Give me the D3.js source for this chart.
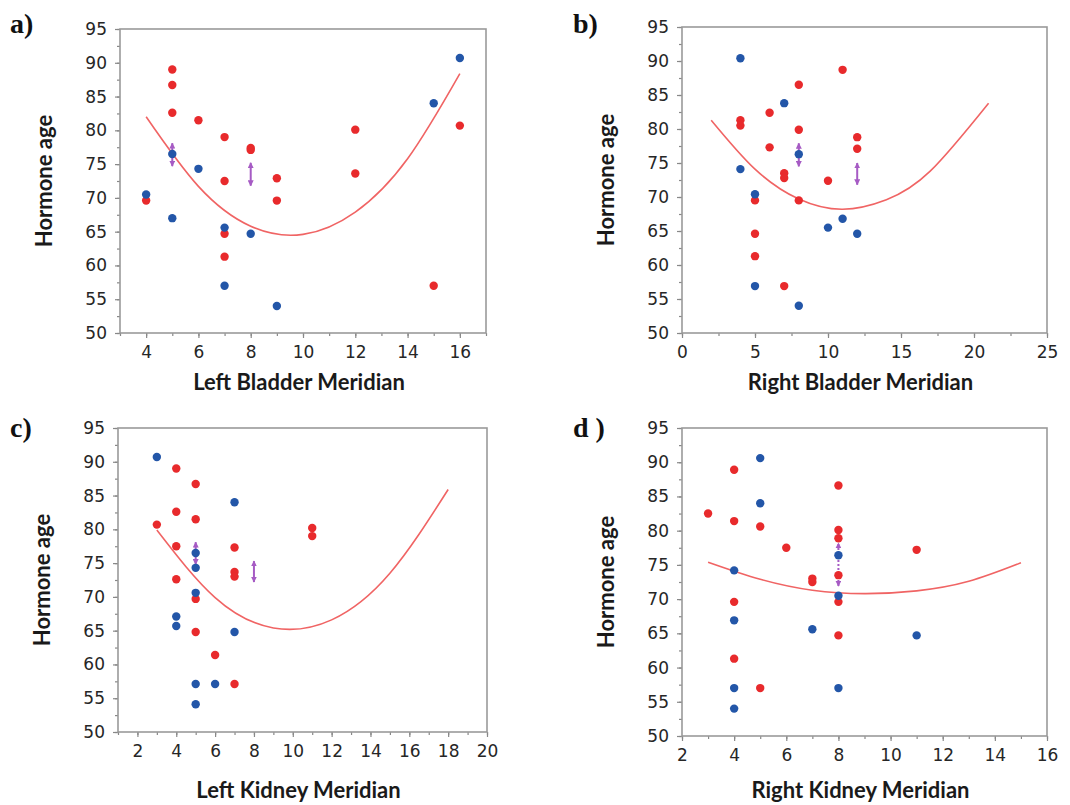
<!DOCTYPE html>
<html>
<head>
<meta charset="utf-8">
<script src="https://cdn.jsdelivr.net/npm/d3@7"></script>
<style>
body{margin:0;background:#fff}
</style>
</head>
<body>
<div id="chart"></div>
<script>
// a) Left Bladder Meridian
var aRed = [[4,69.6],[5,89.0],[5,86.7],[5,82.6],[6,81.5],[7,79.0],[7,72.5],[7,64.7],[7,61.3],[8,77.4],[8,77.1],[9,72.9],[9,69.6],[12,80.1],[12,73.6],[15,57.0],[16,80.7]];
var aBlue = [[4,70.5],[5,76.5],[5,67.0],[6,74.3],[7,65.6],[7,57.0],[8,64.7],[9,54.0],[15,84.0],[16,90.7]];
var aCurve = [[4,82.0],[6,71.7],[8,65.8],[10,64.6],[12,67.9],[14,75.8],[16,88.4]];
var aArrows = [[5,74.7,78.1],[8,71.8,75.2]];
var aXTicks = [4,6,8,10,12,14,16];

// b) Right Bladder Meridian
var bRed = [[4,81.3],[4,80.5],[5,69.5],[5,64.6],[5,61.3],[6,82.4],[6,77.3],[7,73.5],[7,72.8],[7,56.9],[8,86.5],[8,79.9],[8,69.5],[10,72.4],[11,88.7],[12,78.8],[12,77.1]];
var bBlue = [[4,90.4],[4,74.1],[5,70.4],[5,56.9],[7,83.8],[8,76.3],[8,54.0],[10,65.5],[11,66.8],[12,64.6]];
var bCurve = [[2,81.3],[5,74.1],[8,69.7],[11,68.2],[14,69.6],[17,73.8],[21,83.8]];
var bArrows = [[8,74.5,77.9],[12,71.8,75.0]];
var bXTicks = [0,5,10,15,20,25];

// c) Left Kidney Meridian
var cRed = [[3,80.7],[4,89.0],[4,82.6],[4,77.5],[4,72.6],[5,86.7],[5,81.5],[5,69.7],[5,64.8],[6,61.4],[7,77.3],[7,73.7],[7,73.0],[7,57.1],[11,80.2],[11,79.0]];
var cBlue = [[3,90.7],[4,67.1],[4,65.7],[5,76.5],[5,74.3],[5,70.6],[5,57.1],[5,54.1],[6,57.1],[7,84.0],[7,64.8]];
var cCurve = [[3,79.9],[6,69.9],[9,65.4],[12,66.6],[15,73.5],[18,85.9]];
var cArrows = [[5,74.8,78.1],[8,72.2,75.3]];
var cXTicks = [2,4,6,8,10,12,14,16,18,20];

// d) Right Kidney Meridian
var dRed = [[3,82.5],[4,88.9],[4,81.4],[4,69.6],[4,61.3],[5,80.6],[5,57.0],[6,77.5],[7,73.0],[7,72.5],[8,86.6],[8,80.1],[8,78.9],[8,73.5],[8,69.6],[8,64.7],[11,77.2]];
var dBlue = [[4,74.2],[4,66.9],[4,57.0],[4,54.0],[5,90.6],[5,84.0],[7,65.6],[8,76.4],[8,70.5],[8,57.0],[11,64.7]];
var dCurve = [[3,75.4],[5,72.9],[7,71.3],[9,70.8],[11,71.2],[13,72.6],[15,75.3]];
var dArrows = [[8,71.9,78.2]];
var dXTicks = [2,4,6,8,10,12,14,16];

var yTicks = [50,55,60,65,70,75,80,85,90,95];

var panels = [
    {label:'a)', title:'Left Bladder Meridian', red:aRed, blue:aBlue, curve:aCurve, arrows:aArrows, xticks:aXTicks, xdom:[3,17], minor:1,
     x0:120, x1:486, y0:29, y1:333, titleY:390, labX:10, labY:33, dash:false},
    {label:'b)', title:'Right Bladder Meridian', red:bRed, blue:bBlue, curve:bCurve, arrows:bArrows, xticks:bXTicks, xdom:[0,25], minor:2.5,
     x0:682, x1:1047, y0:27, y1:333, titleY:390, labX:573, labY:33, dash:false},
    {label:'c)', title:'Left Kidney Meridian', red:cRed, blue:cBlue, curve:cCurve, arrows:cArrows, xticks:cXTicks, xdom:[1,20], minor:1,
     x0:118, x1:487, y0:428, y1:732, titleY:798, labX:10, labY:437, dash:false},
    {label:'d )', title:'Right Kidney Meridian', red:dRed, blue:dBlue, curve:dCurve, arrows:dArrows, xticks:dXTicks, xdom:[2,16], minor:1,
     x0:682, x1:1047, y0:428, y1:736, titleY:798, labX:573, labY:437, dash:true}
];

var W = 1070, H = 805;
var svg = d3.select('#chart').append('svg')
    .attr('width', W)
    .attr('height', H);

var defs = svg.append('defs');
defs.append('marker')
    .attr('id', 'head')
    .attr('viewBox', '0 0 10 10')
    .attr('refX', 9)
    .attr('refY', 5)
    .attr('markerWidth', 6)
    .attr('markerHeight', 6)
    .attr('markerUnits', 'userSpaceOnUse')
    .attr('orient', 'auto-start-reverse')
    .append('path')
    .attr('d', 'M0,0 L10,5 L0,10 Z')
    .attr('fill', '#a65bc4');

panels.forEach(function (p) {
    var x = d3.scaleLinear().domain(p.xdom).range([p.x0, p.x1]);
    var y = d3.scaleLinear().domain([50, 95]).range([p.y1, p.y0]);
    var g = svg.append('g');

    // minor ticks
    var xminor = d3.range(p.xdom[0], p.xdom[1] + 0.001, p.minor);
    var yminor = d3.range(50, 95.001, 2.5);
    g.append('g')
        .attr('transform', 'translate(0,' + p.y1 + ')')
        .call(d3.axisBottom(x).tickValues(xminor).tickSize(3).tickFormat(''))
        .call(function (s) { s.select('.domain').remove(); });
    g.append('g')
        .attr('transform', 'translate(' + p.x0 + ',0)')
        .call(d3.axisLeft(y).tickValues(yminor).tickSize(3).tickFormat(''))
        .call(function (s) { s.select('.domain').remove(); });

    // major ticks + labels
    var xa = g.append('g')
        .attr('transform', 'translate(0,' + p.y1 + ')')
        .call(d3.axisBottom(x).tickValues(p.xticks).tickSize(5).tickPadding(8).tickFormat(d3.format('d')));
    var ya = g.append('g')
        .attr('transform', 'translate(' + p.x0 + ',0)')
        .call(d3.axisLeft(y).tickValues(yTicks).tickSize(5).tickPadding(8).tickFormat(d3.format('d')));
    [xa, ya].forEach(function (s) {
        s.select('.domain').remove();
        s.selectAll('text')
            .attr('fill', '#262626')
            .attr('font-family', 'DejaVu Sans, Arial, sans-serif')
            .attr('font-size', '17px');
    });
    g.selectAll('.tick line').attr('stroke', '#888').attr('stroke-width', 1.2);

    // frame
    g.append('rect')
        .attr('x', p.x0)
        .attr('y', p.y0)
        .attr('width', p.x1 - p.x0)
        .attr('height', p.y1 - p.y0)
        .attr('fill', 'none')
        .attr('stroke', '#9a9a9a')
        .attr('stroke-width', 1.6);

    // fitted curve
    var line = d3.line()
        .x(function (d) { return x(d[0]); })
        .y(function (d) { return y(d[1]); })
        .curve(d3.curveNatural);
    g.append('path')
        .attr('d', line(p.curve))
        .attr('fill', 'none')
        .attr('stroke', '#f06464')
        .attr('stroke-width', 1.6);

    // purple arrows
    g.selectAll('.arrow')
        .data(p.arrows)
        .enter()
        .append('line')
        .attr('class', 'arrow')
        .attr('x1', function (d) { return x(d[0]); })
        .attr('x2', function (d) { return x(d[0]); })
        .attr('y1', function (d) { return y(d[1]); })
        .attr('y2', function (d) { return y(d[2]); })
        .attr('stroke', '#a65bc4')
        .attr('stroke-width', 2)
        .attr('stroke-dasharray', p.dash ? '2,2' : null)
        .attr('marker-start', 'url(#head)')
        .attr('marker-end', 'url(#head)');

    // points
    g.selectAll('.red')
        .data(p.red)
        .enter()
        .append('circle')
        .attr('class', 'red')
        .attr('cx', function (d) { return x(d[0]); })
        .attr('cy', function (d) { return y(d[1]); })
        .attr('r', 4.2)
        .attr('fill', '#e82a2c');
    g.selectAll('.blue')
        .data(p.blue)
        .enter()
        .append('circle')
        .attr('class', 'blue')
        .attr('cx', function (d) { return x(d[0]); })
        .attr('cy', function (d) { return y(d[1]); })
        .attr('r', 4.2)
        .attr('fill', '#2356a8');

    // titles
    g.append('text')
        .text(p.title)
        .attr('x', (p.x0 + p.x1) / 2 - 4)
        .attr('y', p.titleY)
        .attr('text-anchor', 'middle')
        .attr('font-family', 'Lato, Open Sans, sans-serif')
        .attr('font-weight', 'bold')
        .attr('font-size', '22px')
        .attr('fill', '#1a1a1a');
    g.append('text')
        .text('Hormone age')
        .attr('transform', 'translate(' + (p.x0 - 68) + ',' + ((p.y0 + p.y1) / 2) + ') rotate(-90)')
        .attr('text-anchor', 'middle')
        .attr('font-family', 'Lato, Open Sans, sans-serif')
        .attr('font-weight', 'bold')
        .attr('font-size', '22px')
        .attr('fill', '#1a1a1a');
    g.append('text')
        .text(p.label)
        .attr('x', p.labX)
        .attr('y', p.labY)
        .attr('font-family', 'Liberation Serif, Times New Roman, serif')
        .attr('font-weight', 'bold')
        .attr('font-size', '28px')
        .attr('fill', '#111');
});
</script>
</body>
</html>
